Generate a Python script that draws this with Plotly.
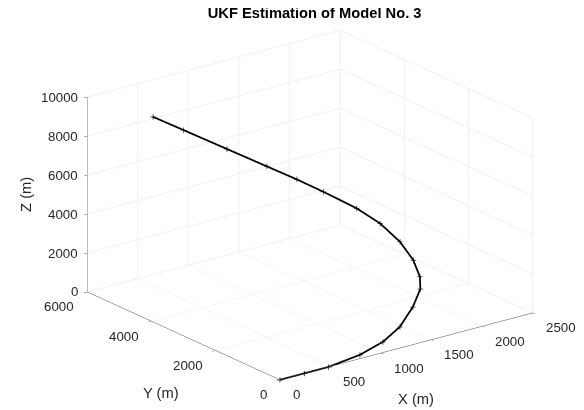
import plotly.graph_objects as go

# trajectory (m)
x_m = [0, 240, 480, 816, 1098, 1370, 1672, 1912, 2024, 2144, 2218, 2212, 2111, 1916, 1706, 1447, 1101, 726, 461]
y_m = [0, 0, 0, 80, 251, 579, 1125, 1647, 2015, 2600, 3248, 3850, 4258, 4682, 4848, 4964, 5120, 5289, 5408]
z_m = [0, 0, 0, 100, 250, 400, 600, 800, 1000, 1250, 1600, 2100, 2700, 3500, 4300, 5236, 6487, 7844, 8800]

x_ticks = [0, 500, 1000, 1500, 2000, 2500]
y_ticks = [0, 2000, 4000, 6000]
z_ticks = [0, 2000, 4000, 6000, 8000, 10000]

font = "Liberation Sans, Arial, sans-serif"
TXT = "#262626"
TICK_FS = 13.3
LAB_FS = 14.7

fig = go.Figure()
fig.add_trace(go.Scatter3d(x=x_m, y=y_m, z=z_m, mode="lines+markers",
                           line=dict(color="black", width=3.5),
                           marker=dict(color="black", size=3, symbol="cross"),
                           showlegend=False, hoverinfo="skip"))

def ax(ticks):
    return dict(title=dict(text=""),
                range=[ticks[0], ticks[-1]], tickvals=ticks,
                showticklabels=False,
                showbackground=False, gridcolor="#e3e3e3", gridwidth=1,
                showline=True, linecolor="#4d4d4d", linewidth=1,
                zeroline=False, showspikes=False, ticks="outside",
                ticklen=4, tickcolor="#4d4d4d")

ann = []
for t in z_ticks:
    ann.append(dict(x=x_ticks[0], y=y_ticks[-1], z=t, text=str(t), showarrow=False,
                    xanchor="right", yanchor="middle", xshift=-7,
                    font=dict(size=TICK_FS, color=TXT)))
for t in y_ticks:
    ann.append(dict(x=x_ticks[0], y=t, z=z_ticks[0], text=str(t), showarrow=False,
                    xanchor="right", yanchor="middle", xshift=-11, yshift=-15,
                    font=dict(size=TICK_FS, color=TXT)))
for t in x_ticks:
    ann.append(dict(x=t, y=y_ticks[0], z=z_ticks[0], text=str(t), showarrow=False,
                    xanchor="left", yanchor="middle", xshift=11, yshift=-15,
                    font=dict(size=TICK_FS, color=TXT)))
ann.append(dict(x=(x_ticks[0] + x_ticks[-1]) / 2, y=y_ticks[0], z=z_ticks[0], text="X (m)",
                showarrow=False, xanchor="center", yanchor="middle", xshift=10, yshift=-53,
                font=dict(size=LAB_FS, color=TXT)))
ann.append(dict(x=x_ticks[0], y=(y_ticks[0] + y_ticks[-1]) / 2, z=z_ticks[0], text="Y (m)",
                showarrow=False, xanchor="center", yanchor="middle", xshift=-23, yshift=-57,
                font=dict(size=LAB_FS, color=TXT)))
ann.append(dict(x=x_ticks[0], y=y_ticks[-1], z=(z_ticks[0] + z_ticks[-1]) / 2, text="Z (m)",
                showarrow=False, xanchor="center", yanchor="middle", xshift=-62, textangle=-90,
                font=dict(size=LAB_FS, color=TXT)))

r = 2.0
k = 1.613
fig.update_layout(
    width=584, height=410,
    margin=dict(l=0, r=0, t=0, b=0),
    paper_bgcolor="white",
    font=dict(family=font, color=TXT),
    title=dict(text="<b>UKF Estimation of Model No. 3</b>", x=0.525, y=0.987,
               xanchor="center", yanchor="middle", font=dict(size=LAB_FS, color="black")),
    scene=dict(
        domain=dict(x=[0.048, 0.986], y=[0.039, 1.0]),
        xaxis=ax(x_ticks),
        yaxis=ax(y_ticks),
        zaxis=ax(z_ticks),
        aspectmode="manual",
        aspectratio=dict(x=1 * k, y=1 * k, z=0.654 * k),
        camera=dict(projection=dict(type="orthographic"),
                    eye=dict(x=-0.5684 * r, y=-0.7462 * r, z=0.3476 * r),
                    up=dict(x=0, y=0, z=1),
                    center=dict(x=0, y=0, z=0)),
        annotations=ann,
    ),
)
fig.write_html("out.html")
